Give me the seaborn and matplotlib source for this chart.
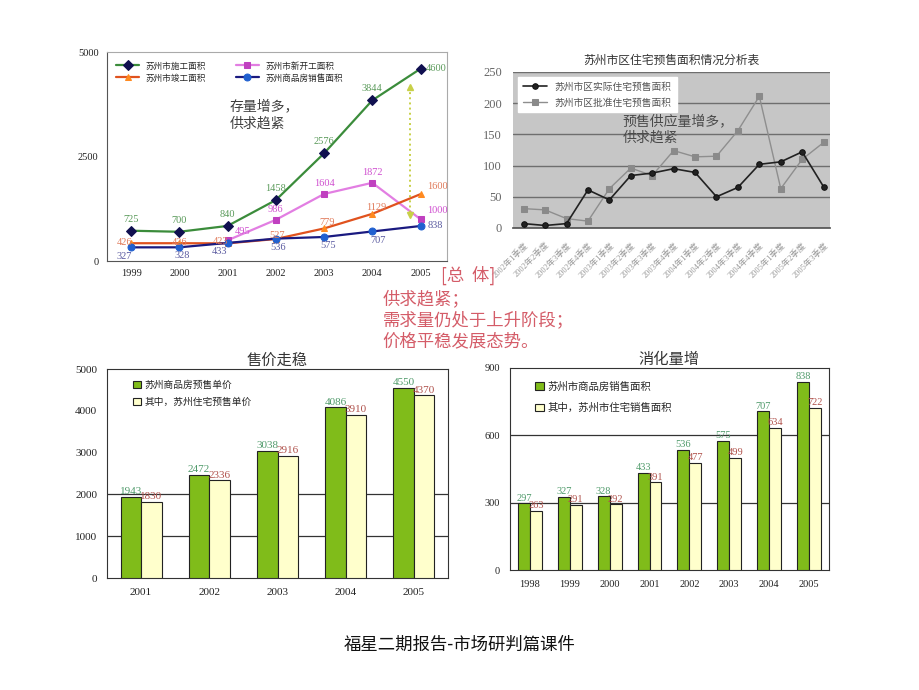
import numpy as np
import pandas as pd
import seaborn as sns
import matplotlib.pyplot as plt
from matplotlib.ticker import FixedLocator

sns.set_theme(style="white")
plt.rcParams['font.family'] = ['Liberation Serif', 'Noto Sans CJK SC', 'DejaVu Sans']
plt.rcParams['axes.unicode_minus'] = False

# === data: 苏州市 area lines (top left) ===
years_a = [1999, 2000, 2001, 2002, 2003, 2004, 2005]
construct = [725, 700, 840, 1458, 2576, 3844, 4600]
new_start = [np.nan, np.nan, 495, 986, 1604, 1872, 1000]
completed = [426, 426, 423, 527, 779, 1129, 1600]
sold = [327, 328, 433, 536, 575, 707, 838]

# === data: 预售面积 by quarter (top right) ===
quarters = ['2002年1季度', '2002年2季度', '2002年3季度', '2002年4季度',
            '2003年1季度', '2003年2季度', '2003年3季度', '2003年4季度',
            '2004年1季度', '2004年2季度', '2004年3季度', '2004年4季度',
            '2005年1季度', '2005年2季度', '2005年3季度']
actual_presale = [7, 4, 7, 61, 45, 84, 88, 95, 89, 50, 65, 102, 106, 122, 66]
approved_presale = [31, 29, 15, 11, 63, 96, 84, 124, 114, 115, 156, 211, 63, 110, 137]

# === data: 售价 (bottom left) ===
price_years = ['2001', '2002', '2003', '2004', '2005']
price_all = [1943, 2472, 3038, 4086, 4550]
price_res = [1830, 2336, 2916, 3910, 4370]

# === data: 销售面积 (bottom right) ===
sale_years = ['1998', '1999', '2000', '2001', '2002', '2003', '2004', '2005']
sale_all = [297, 327, 328, 433, 536, 575, 707, 838]
sale_res = [263, 291, 292, 391, 477, 499, 634, 722]

GREEN = '#80bc1a'
CREAM = '#ffffcc'
LAB_G = '#4f9a6a'
LAB_R = '#b0524c'

fig = plt.figure(figsize=(9.2, 6.9), dpi=100)
fig.patch.set_facecolor('white')

# ---------------- top left ----------------
ax1 = fig.add_axes([0.1163, 0.6217, 0.3696, 0.3029])
series = [
    ('苏州市施工面积', construct, '#3b8c3b', 'D', '#101050', '#101050', 5, '#5a9a5a'),
    ('苏州市新开工面积', new_start, '#e27ee2', 's', '#c040c0', '#c040c0', 4, '#d050d0'),
    ('苏州市竣工面积', completed, '#e0521e', '^', '#ff8a20', '#ff8a20', 5, '#e07a5a'),
    ('苏州商品房销售面积', sold, '#1a1a80', 'o', '#2060d0', '#2060d0', 5, '#5a5aa0'),
]
for name, vals, lc, mk, mfc, mec, ms, _ in series:
    sns.lineplot(x=years_a, y=vals, ax=ax1, color=lc, marker=mk, markersize=ms,
                 markerfacecolor=mfc, markeredgecolor=mec, linewidth=1.6, label=name)

# value labels
offs = {
    '苏州市施工面积': [(0, 5, 'center', 'bottom')] * 6 + [(4, 0, 'left', 'center')],
    '苏州市新开工面积': [(0, 0, 'center', 'bottom')] * 2 + [(5, 3, 'left', 'bottom')] +
                [(0, 4, 'center', 'bottom')] * 3 + [(5, 3, 'left', 'bottom')],
    '苏州市竣工面积': [(-5, -3, 'center', 'bottom'), (0, -3, 'center', 'bottom'),
                (-5, -2, 'center', 'bottom'), (1, -1, 'center', 'bottom'),
                (2, 1, 'center', 'bottom'), (3, 1, 'center', 'bottom'),
                (5, 2, 'left', 'bottom')],
    '苏州商品房销售面积': [(-5, -3, 'center', 'top'), (2, -3, 'center', 'top'),
                  (-6, -3, 'center', 'top'), (2, -3, 'center', 'top'),
                  (3, -3, 'center', 'top'), (4, -3, 'center', 'top'),
                  (5, 0, 'left', 'center')],
}
for name, vals, _, _, _, _, _, tc in series:
    for x, v, (dx, dy, ha, va) in zip(years_a, vals, offs[name]):
        if np.isnan(v):
            continue
        ax1.annotate(f'{int(v)}', (x, v), xytext=(dx, dy), textcoords='offset points',
                     ha=ha, va=va, fontsize=7.5, color=tc)

ax1.set_xlim(1998.5, 2005.55)
ax1.set_ylim(0, 5000)
ax1.set_xticks(years_a)
ax1.set_xticklabels([str(y) for y in years_a])
ax1.xaxis.set_minor_locator(FixedLocator([y + 0.5 for y in years_a[:-1]]))
ax1.set_yticks([0, 2500, 5000])
ax1.tick_params(axis='both', labelsize=7.5, colors='#222222', length=0, pad=6)
ax1.tick_params(axis='x', which='minor', direction='in', length=3, color='#444444')
for s in ['left', 'bottom']:
    ax1.spines[s].set_color('#555555')
for s in ['top', 'right']:
    ax1.spines[s].set_color('#aaaaaa')
for s in ax1.spines.values():
    s.set_linewidth(0.8)
ax1.set_xlabel('')
ax1.set_ylabel('')

# dotted gap arrow
ax1.plot([2004.78, 2004.78], [4170, 1100], ls=':', color='#c8d048', lw=1.4)
ax1.plot([2004.78], [4170], marker='^', color='#c8d048', ms=5)
ax1.plot([2004.78], [1100], marker='v', color='#c8d048', ms=5)

ax1.text(2001.05, 3500, '存量增多，\n供求趋紧', fontsize=10, color='#404040',
         va='center', ha='left', linespacing=1.3, family=['Noto Sans CJK SC'])

h, l = ax1.get_legend_handles_labels()
order = [0, 2, 1, 3]
ax1.legend([h[i] for i in order], [l[i] for i in order], ncol=2, loc='upper left',
           bbox_to_anchor=(0.0, 1.0), frameon=False, handlelength=2.6,
           columnspacing=3.5, labelspacing=0.35, borderpad=0.6,
           prop={'family': ['Noto Sans CJK SC'], 'size': 6.2})

# ---------------- top right ----------------
ax2 = fig.add_axes([0.5576, 0.6696, 0.3446, 0.2261])
ax2.set_facecolor('#c6c6c6')
qx = np.arange(len(quarters))
sns.lineplot(x=qx, y=actual_presale, ax=ax2, color='#222222', marker='o', markersize=4,
             markeredgecolor='#111111', linewidth=1.2, label='苏州市区实际住宅预售面积', zorder=4)
sns.lineplot(x=qx, y=approved_presale, ax=ax2, color='#8e8e8e', marker='s', markersize=4,
             markerfacecolor='#8a8a8a', markeredgecolor='#8a8a8a', linewidth=1.0,
             label='苏州市区批准住宅预售面积', zorder=3)
ax2.set_xlim(-0.5, 14.3)
ax2.set_ylim(0, 250)
ax2.set_yticks([0, 50, 100, 150, 200, 250])
ax2.yaxis.grid(True, color='#6e6e6e', lw=1.0)
ax2.set_axisbelow(True)
ax2.set_xticks(qx)
ax2.set_xticklabels(quarters, rotation=45, ha='right', rotation_mode='anchor',
                    fontsize=6, color='#999999')
ax2.tick_params(axis='x', length=0, pad=9)
ax2.tick_params(axis='y', length=0, labelsize=9, colors='#666666', pad=8)
for s in ['left', 'top', 'right']:
    ax2.spines[s].set_visible(False)
ax2.spines['bottom'].set_color('#555555')
ax2.set_title('苏州市区住宅预售面积情况分析表', fontsize=8.5, color='#333333', pad=6,
              family=['Noto Sans CJK SC'])
leg2 = ax2.legend(loc='upper left', bbox_to_anchor=(0.0, 1.0), frameon=True, fancybox=False,
                  handlelength=2.5, borderpad=0.5, labelspacing=0.6,
                  prop={'family': ['Noto Sans CJK SC'], 'size': 7})
leg2.get_frame().set_facecolor('white')
leg2.get_frame().set_edgecolor('white')
leg2.get_frame().set_alpha(1)
for t in leg2.get_texts():
    t.set_color('#555555')
ax2.text(4.6, 158, '预售供应量增多，\n供求趋紧', fontsize=10, color='#4a4a4a',
         ha='left', va='center', linespacing=1.15, family=['Noto Sans CJK SC'], zorder=6)
ax2.set_xlabel('')
ax2.set_ylabel('')

# ---------------- bar charts ----------------
def bar_panel(rect, cats, v1, v2, name1, name2, title, ylim, yticks, grid_at, fs_tick, fs_lab,
              leg_anchor, leg_space, leg_fs):
    ax = fig.add_axes(rect)
    df = pd.DataFrame({
        'cat': cats * 2,
        'value': v1 + v2,
        'series': [name1] * len(cats) + [name2] * len(cats),
    })
    sns.barplot(data=df, x='cat', y='value', hue='series', palette=[GREEN, CREAM],
                saturation=1, edgecolor='#222222', linewidth=0.8, width=0.6, gap=0,
                ax=ax, zorder=3)
    for yv in grid_at:
        ax.axhline(yv, color='#333333', lw=0.9, zorder=1)
    for cont, vals, col in zip(ax.containers, [v1, v2], [LAB_G, LAB_R]):
        ax.bar_label(cont, labels=[str(v) for v in vals], color=col, fontsize=fs_lab,
                     padding=0.5)
    ax.set_xlim(-0.5, len(cats) - 0.5)
    ax.set_ylim(*ylim)
    ax.set_yticks(yticks)
    ax.xaxis.set_minor_locator(FixedLocator([i + 0.5 for i in range(len(cats) - 1)]))
    ax.tick_params(axis='both', length=0, labelsize=fs_tick, colors='#222222', pad=7)
    ax.tick_params(axis='x', which='minor', direction='in', length=3, color='#333333')
    for s in ax.spines.values():
        s.set_color('#333333')
        s.set_linewidth(0.8)
    ax.set_xlabel('')
    ax.set_ylabel('')
    ax.set_title(title, fontsize=11, color='#333333', pad=3, family=['Noto Sans CJK SC'])
    h, l = ax.get_legend_handles_labels()
    ax.legend(h, l, loc='upper left', bbox_to_anchor=leg_anchor, frameon=False,
              handlelength=0.8, handleheight=0.8, handletextpad=0.4,
              labelspacing=leg_space, prop={'family': ['Noto Sans CJK SC'], 'size': leg_fs})
    return ax

bar_panel([0.1163, 0.1623, 0.3707, 0.3029], price_years, price_all, price_res,
          '苏州商品房预售单价', '其中，苏州住宅预售单价', '售价走稳',
          (0, 5000), [0, 1000, 2000, 3000, 4000, 5000], [1000, 2000], 8, 8,
          (0.05, 0.99), 0.75, 7)

bar_panel([0.5543, 0.1739, 0.3467, 0.2928], sale_years, sale_all, sale_res,
          '苏州市商品房销售面积', '其中，苏州市住宅销售面积', '消化量增',
          (0, 900), [0, 300, 600, 900], [300, 600], 7.5, 7.5,
          (0.05, 0.98), 1.1, 7.5)

# ---------------- middle text & footer ----------------
RED = '#d45c68'
fig.text(0.479, 0.601, '[总  体]', fontsize=12.5, color=RED, ha='left', va='center',
         family=['Noto Sans CJK SC'])
fig.text(0.416, 0.5667, '供求趋紧；', fontsize=12.5, color=RED, ha='left', va='center',
         family=['Noto Sans CJK SC'])
fig.text(0.416, 0.5362, '需求量仍处于上升阶段；', fontsize=12.5, color=RED, ha='left',
         va='center', family=['Noto Sans CJK SC'])
fig.text(0.416, 0.5058, '价格平稳发展态势。', fontsize=12.5, color=RED, ha='left',
         va='center', family=['Noto Sans CJK SC'])

fig.text(0.5, 0.065, '福星二期报告-市场研判篇课件', fontsize=12.5, color='#111111',
         ha='center', va='center', family=['Noto Sans CJK SC'])

fig.savefig('out.png', dpi=100, facecolor='white')
